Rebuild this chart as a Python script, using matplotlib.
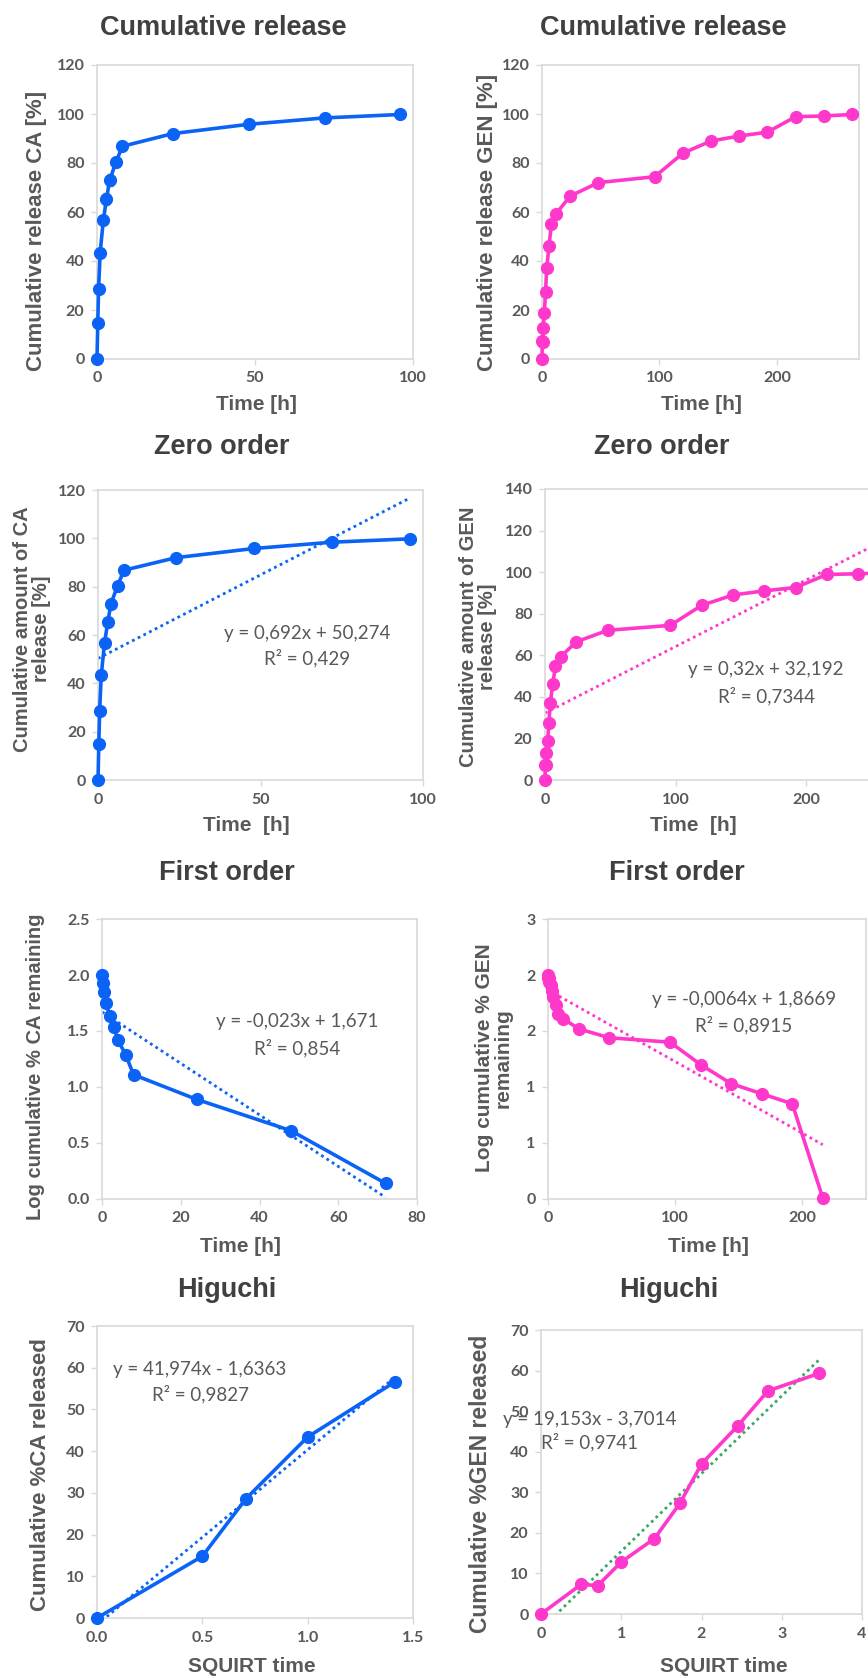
import matplotlib
matplotlib.use("Agg")
import matplotlib.pyplot as plt
import numpy as np

# ---------------- data ----------------
ca_time = [0, 0.25, 0.5, 1, 2, 3, 4, 6, 8, 24, 48, 72, 96]
ca_release = [0, 14.8, 28.6, 43.4, 56.6, 65.3, 73.0, 80.3, 86.8, 92.0, 95.8, 98.4, 99.8]
ca_release_err = [0, 0.5, 0.5, 0.5, 1.0, 2.5, 2.5, 2.0, 1.0, 0.5, 0.5, 0.5, 0.5]

gen_time = [0, 0.25, 0.5, 1, 2, 3, 4, 6, 8, 12, 24, 48, 96, 120, 144, 168, 192, 216, 240, 264]
gen_release = [0, 7.3, 7.0, 12.8, 18.6, 27.3, 37.0, 46.3, 55.0, 59.3, 66.5, 72.0, 74.4,
               84.0, 89.0, 91.0, 92.6, 98.9, 99.2, 99.8]

ca_first_time = [0, 0.25, 0.5, 1, 2, 3, 4, 6, 8, 24, 48, 72]
ca_first_log = [2.00, 1.93, 1.85, 1.75, 1.63, 1.54, 1.42, 1.29, 1.11, 0.89, 0.61, 0.14]

gen_first_time = [0, 0.25, 0.5, 1, 2, 3, 4, 6, 8, 12, 24, 48, 96, 120, 144, 168, 192, 216]
gen_first_log = [2.00, 1.97, 1.97, 1.94, 1.91, 1.86, 1.80, 1.73, 1.65, 1.61, 1.52, 1.44,
                 1.40, 1.20, 1.03, 0.94, 0.85, 0.01]
gen_first_yticklabels = ['0', '1', '1', '2', '2', '3']

ca_sqrt_time = [0, 0.5, 0.707, 1.0, 1.414]
ca_higuchi = [0, 14.8, 28.6, 43.4, 56.6]

gen_sqrt_time = [0, 0.5, 0.707, 1.0, 1.414, 1.732, 2.0, 2.449, 2.828, 3.464]
gen_higuchi = [0, 7.3, 7.0, 12.8, 18.6, 27.3, 37.0, 46.3, 55.0, 59.3]

# trend lines (slope, intercept, x-range) as given by the equations in the chart
ca_zero_fit = (0.692, 50.274, 0, 96)
gen_zero_fit = (0.32, 32.192, 0, 264)
ca_first_fit = (-0.023, 1.671, 0, 72)
gen_first_fit = (-0.0064, 1.8669, 0, 216)
ca_hig_fit = (41.974, -1.6363, 0, 1.414)
gen_hig_fit = (19.153, -3.7014, 0, 3.464)

eq_texts = {
    'ca_zero': ('y = 0,692x + 50,274', 'R² = 0,429'),
    'gen_zero': ('y = 0,32x + 32,192', 'R² = 0,7344'),
    'ca_first': ('y = -0,023x + 1,671', 'R² = 0,854'),
    'gen_first': ('y = -0,0064x + 1,8669', 'R² = 0,8915'),
    'ca_hig': ('y = 41,974x - 1,6363', 'R² = 0,9827'),
    'gen_hig': ('y = 19,153x - 3,7014', 'R² = 0,9741'),
}

# ---------------- style ----------------
W, H = 868, 1678
BLUE = '#0b63f6'
PINK = '#ff38cc'
GREEN = '#3aa863'
TITLE_C = '#404040'
LABEL_C = '#595959'
TICK_C = '#595959'
SPINE_C = '#d9d9d9'
EQ_C = '#595959'
TITLE_FONT = 'Liberation Sans'
TICK_FONT = 'Lato'

fig = plt.figure(figsize=(W / 100, H / 100), dpi=100)
fig.patch.set_facecolor('white')


def fx(x):
    return x / W


def fy(y):
    return 1 - y / H


def make_ax(left, right, top, bottom):
    ax = fig.add_axes([fx(left), fy(bottom), (right - left) / W, (bottom - top) / H])
    for s in ax.spines.values():
        s.set_color(SPINE_C)
        s.set_linewidth(1.2)
    ax.tick_params(direction='out', length=4, width=1, color=SPINE_C,
                   labelcolor=TICK_C, labelsize=11.5, pad=5)
    return ax


def style_ticks(ax):
    for lab in ax.get_xticklabels() + ax.get_yticklabels():
        lab.set_fontfamily(TICK_FONT)
        lab.set_fontweight('bold')
        lab.set_color(TICK_C)
        lab.set_fontsize(11.5)


def series(ax, x, y, color):
    ax.plot(x, y, color=color, lw=2.6, marker='o', ms=8.5, zorder=3, clip_on=False)


def trend(ax, fit, color):
    m, b, x0, x1 = fit
    xs = np.array([x0, x1])
    ax.plot(xs, m * xs + b, color=color, lw=2.0, linestyle=(0, (1, 1.3)), zorder=2)


def title(x, y, s):
    fig.text(fx(x), fy(y), s, ha='center', va='center', fontsize=19.5,
             fontweight='bold', color=TITLE_C, family=TITLE_FONT)


def ylab(x, y, s, size):
    fig.text(fx(x), fy(y), s, ha='center', va='center', rotation=90, fontsize=size,
             fontweight='bold', color=LABEL_C, family=TITLE_FONT, linespacing=1.0)


def xlab(x, y, s, size=15):
    fig.text(fx(x), fy(y), s, ha='center', va='center', fontsize=size,
             fontweight='bold', color=LABEL_C, family=TITLE_FONT)


def eq(x, y1, y2, key):
    a, b = eq_texts[key]
    fig.text(fx(x), fy(y1), a, ha='center', va='center', fontsize=13.5, color=EQ_C, family=TICK_FONT)
    fig.text(fx(x), fy(y2), b, ha='center', va='center', fontsize=13.5, color=EQ_C, family=TICK_FONT)


# ---------- Row 1: cumulative release ----------
ax = make_ax(97, 413, 65, 359)
ax.errorbar(ca_time, ca_release, yerr=ca_release_err, fmt='none', ecolor='#7f7f7f',
            elinewidth=1, capsize=2, zorder=2)
series(ax, ca_time, ca_release, BLUE)
ax.set_xlim(0, 100); ax.set_ylim(0, 120)
ax.set_xticks([0, 50, 100]); ax.set_yticks(range(0, 121, 20))
style_ticks(ax)
title(223, 28, 'Cumulative release')
ylab(37, 231, 'Cumulative release CA [%]', 16)
xlab(256, 405, 'Time [h]')

ax = make_ax(542, 859, 65, 359)
series(ax, gen_time, gen_release, PINK)
ax.set_xlim(0, 270); ax.set_ylim(0, 120)
ax.set_xticks([0, 100, 200]); ax.set_yticks(range(0, 121, 20))
style_ticks(ax)
title(663, 28, 'Cumulative release')
ylab(488, 222, 'Cumulative release GEN [%]', 16)
xlab(701, 405, 'Time [h]')

# ---------- Row 2: zero order ----------
ax = make_ax(98, 423, 490, 780)
trend(ax, ca_zero_fit, BLUE)
series(ax, ca_time, ca_release, BLUE)
ax.set_xlim(0, 100); ax.set_ylim(0, 120)
ax.set_xticks([0, 50, 100]); ax.set_yticks(range(0, 121, 20))
style_ticks(ax)
title(222, 447, 'Zero order')
ylab(32, 629, 'Cumulative amount of CA\nrelease [%]', 14.5)
xlab(246, 826, 'Time  [h]')
eq(307, 633, 658, 'ca_zero')

ax = make_ax(545, 936.5, 489, 780)
trend(ax, gen_zero_fit, PINK)
series(ax, gen_time, gen_release, PINK)
ax.set_xlim(0, 300); ax.set_ylim(0, 140)
ax.set_xticks([0, 100, 200]); ax.set_yticks(range(0, 141, 20))
style_ticks(ax)
title(662, 447, 'Zero order')
ylab(478, 637, 'Cumulative amount of GEN\nrelease [%]', 14.5)
xlab(693, 826, 'Time  [h]')
eq(766, 670, 696, 'gen_zero')

# ---------- Row 3: first order ----------
ax = make_ax(102, 417, 919, 1199)
trend(ax, ca_first_fit, BLUE)
series(ax, ca_first_time, ca_first_log, BLUE)
ax.set_xlim(0, 80); ax.set_ylim(0, 2.5)
ax.set_xticks(range(0, 81, 20)); ax.set_yticks(np.arange(0, 2.51, 0.5))
ax.yaxis.set_major_formatter(matplotlib.ticker.FormatStrFormatter('%.1f'))
style_ticks(ax)
title(227, 873, 'First order')
ylab(36, 1067, 'Log cumulative % CA remaining', 14.5)
xlab(240, 1247, 'Time [h]')
eq(297, 1022, 1048, 'ca_first')

ax = make_ax(548, 866, 919, 1199)
trend(ax, gen_first_fit, PINK)
series(ax, gen_first_time, gen_first_log, PINK)
ax.set_xlim(0, 250); ax.set_ylim(0, 2.5)
ax.set_xticks([0, 100, 200]); ax.set_yticks(np.arange(0, 2.51, 0.5))
ax.set_yticklabels(gen_first_yticklabels)
style_ticks(ax)
title(677, 873, 'First order')
ylab(494, 1058, 'Log cumulative % GEN\nremaining', 15)
xlab(708, 1247, 'Time [h]')
eq(744, 999, 1025, 'gen_first')

# ---------- Row 4: Higuchi ----------
ax = make_ax(97, 413, 1326, 1618)
trend(ax, ca_hig_fit, BLUE)
series(ax, ca_sqrt_time, ca_higuchi, BLUE)
ax.set_xlim(0, 1.5); ax.set_ylim(0, 70)
ax.set_xticks(np.arange(0, 1.51, 0.5)); ax.set_yticks(range(0, 71, 10))
ax.xaxis.set_major_formatter(matplotlib.ticker.FormatStrFormatter('%.1f'))
style_ticks(ax)
title(227, 1290, 'Higuchi')
ylab(41, 1475, 'Cumulative %CA released', 16)
xlab(252, 1666, 'SQUIRT time')
eq(200, 1370, 1394, 'ca_hig')

ax = make_ax(541, 862, 1330, 1614)
trend(ax, gen_hig_fit, GREEN)
series(ax, gen_sqrt_time, gen_higuchi, PINK)
ax.set_xlim(0, 4); ax.set_ylim(0, 70)
ax.set_xticks(range(0, 5)); ax.set_yticks(range(0, 71, 10))
style_ticks(ax)
title(669, 1290, 'Higuchi')
ylab(480, 1484, 'Cumulative %GEN released', 16.5)
xlab(724, 1666, 'SQUIRT time')
eq(590, 1419, 1442, 'gen_hig')

fig.savefig('out.png', dpi=100, facecolor='white')
